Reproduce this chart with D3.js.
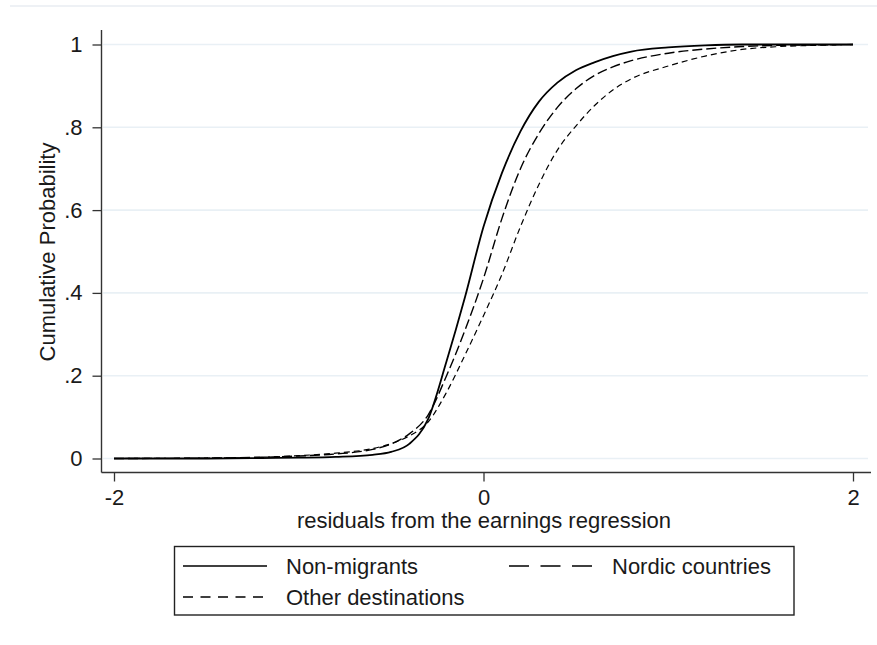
<!DOCTYPE html>
<html>
<head>
<meta charset="utf-8">
<script src="https://cdn.jsdelivr.net/npm/d3@7"></script>
<style>
  body { margin: 0; background: #fff; }
  svg text { font-family: "Liberation Sans", Arial, sans-serif; fill: #1a1a1a; }
</style>
</head>
<body>
<svg id="chart" width="877" height="645"></svg>
<script>
// residual grid (x) and cumulative probabilities
const residuals = [-2, -1.5, -1.2, -1.0, -0.8, -0.6, -0.5, -0.4, -0.3, -0.2, -0.1, 0, 0.1, 0.2, 0.3, 0.4, 0.5, 0.6, 0.7, 0.8, 1.0, 1.2, 1.4, 1.6, 1.8, 2.0];
const nonMigrants = [0, 0, 0.001, 0.002, 0.004, 0.009, 0.016, 0.036, 0.095, 0.235, 0.39, 0.56, 0.69, 0.79, 0.862, 0.908, 0.938, 0.957, 0.972, 0.983, 0.993, 0.998, 1, 1, 1, 1];
const nordic = [0, 0.001, 0.003, 0.006, 0.011, 0.022, 0.035, 0.06, 0.105, 0.2, 0.31, 0.435, 0.58, 0.70, 0.785, 0.848, 0.893, 0.925, 0.946, 0.961, 0.979, 0.989, 0.995, 0.998, 0.999, 1];
const otherDest = [0, 0.001, 0.003, 0.007, 0.013, 0.024, 0.036, 0.055, 0.088, 0.16, 0.25, 0.345, 0.445, 0.56, 0.662, 0.745, 0.803, 0.852, 0.89, 0.917, 0.948, 0.972, 0.988, 0.995, 0.998, 1];

const xTicks = [-2, 0, 2];
const yTicks = [0, 0.2, 0.4, 0.6, 0.8, 1];

const series = [
  { name: 'Non-migrants', values: nonMigrants, dash: null, width: 1.8, legendDash: null },
  { name: 'Nordic countries', values: nordic, dash: '10,4', width: 1.4, legendDash: '20,11.5' },
  { name: 'Other destinations', values: otherDest, dash: '6,4', width: 1.2, legendDash: '10,7.5' }
];

const svg = d3.select('#chart');

// plot region
const plotL = 101.5, plotR = 868, plotT = 30, plotB = 472.5;

const x = d3.scaleLinear().domain([-2, 2]).range([114, 853]);
const y = d3.scaleLinear().domain([0, 1]).range([458.5, 44.5]);

// faint frame line at top
svg.append('line')
    .attr('x1', 10).attr('x2', 877)
    .attr('y1', 6).attr('y2', 6)
    .attr('stroke', '#eef1f5').attr('stroke-width', 2);

// gridlines
svg.append('g').selectAll('line')
    .data(yTicks)
    .enter().append('line')
      .attr('x1', plotL + 1.5).attr('x2', plotR)
      .attr('y1', d => y(d)).attr('y2', d => y(d))
      .attr('stroke', '#e9f0f5').attr('stroke-width', 1.6);

// curves
const line = d3.line()
    .x(d => x(d[0]))
    .y(d => y(d[1]))
    .curve(d3.curveMonotoneX);

svg.append('g').selectAll('path')
    .data(series)
    .enter().append('path')
      .attr('d', s => line(residuals.map((r, i) => [r, s.values[i]])))
      .attr('fill', 'none')
      .attr('stroke', '#000')
      .attr('stroke-width', s => s.width)
      .attr('stroke-dasharray', s => s.dash);

// axes
const yAxis = svg.append('g')
    .attr('transform', `translate(${plotL},0)`)
    .call(d3.axisLeft(y).tickValues(yTicks).tickSize(9).tickPadding(10)
      .tickFormat(d => d === 0 ? '0' : d === 1 ? '1' : String(d).replace('0.', '.')));
const xAxis = svg.append('g')
    .attr('transform', `translate(0,${plotB})`)
    .call(d3.axisBottom(x).tickValues(xTicks).tickSize(9).tickPadding(8).tickFormat(d3.format('d')));

[yAxis, xAxis].forEach(a => {
  a.select('.domain').remove();
  a.selectAll('.tick line').attr('stroke', '#333').attr('stroke-width', 1.3);
  a.selectAll('.tick text').style('font-size', '22px').attr('fill', '#1a1a1a');
});
xAxis.selectAll('.tick text').text(d => d < 0 ? '-' + Math.abs(d) : d);

// axis spines
svg.append('line')
    .attr('x1', plotL).attr('x2', plotL).attr('y1', plotT).attr('y2', plotB)
    .attr('stroke', '#333').attr('stroke-width', 1.4);
svg.append('line')
    .attr('x1', plotL).attr('x2', 871).attr('y1', plotB).attr('y2', plotB)
    .attr('stroke', '#333').attr('stroke-width', 1.4);

// axis titles
svg.append('text')
    .attr('x', 484).attr('y', 528)
    .attr('text-anchor', 'middle')
    .style('font-size', '22px')
    .text('residuals from the earnings regression');

svg.append('text')
    .attr('transform', 'translate(55,252) rotate(-90)')
    .attr('text-anchor', 'middle')
    .style('font-size', '22px')
    .text('Cumulative Probability');

// legend
const legend = svg.append('g');
legend.append('rect')
    .attr('x', 174.5).attr('y', 546.5)
    .attr('width', 619.5).attr('height', 68.5)
    .attr('fill', '#fff').attr('stroke', '#222').attr('stroke-width', 1.4);

const legendPos = [
  { lx: 183, ly: 566, tx: 286 },
  { lx: 509, ly: 566, tx: 612 },
  { lx: 183, ly: 597, tx: 286 }
];

const item = legend.selectAll('g.item')
    .data(series)
    .enter().append('g')
      .attr('class', 'item');

item.append('line')
    .attr('x1', (d, i) => legendPos[i].lx)
    .attr('x2', (d, i) => legendPos[i].lx + 84)
    .attr('y1', (d, i) => legendPos[i].ly)
    .attr('y2', (d, i) => legendPos[i].ly)
    .attr('stroke', '#000')
    .attr('stroke-width', 1.4)
    .attr('stroke-dasharray', d => d.legendDash);

item.append('text')
    .attr('x', (d, i) => legendPos[i].tx)
    .attr('y', (d, i) => legendPos[i].ly + 8)
    .style('font-size', '22px')
    .text(d => d.name);
</script>
</body>
</html>
